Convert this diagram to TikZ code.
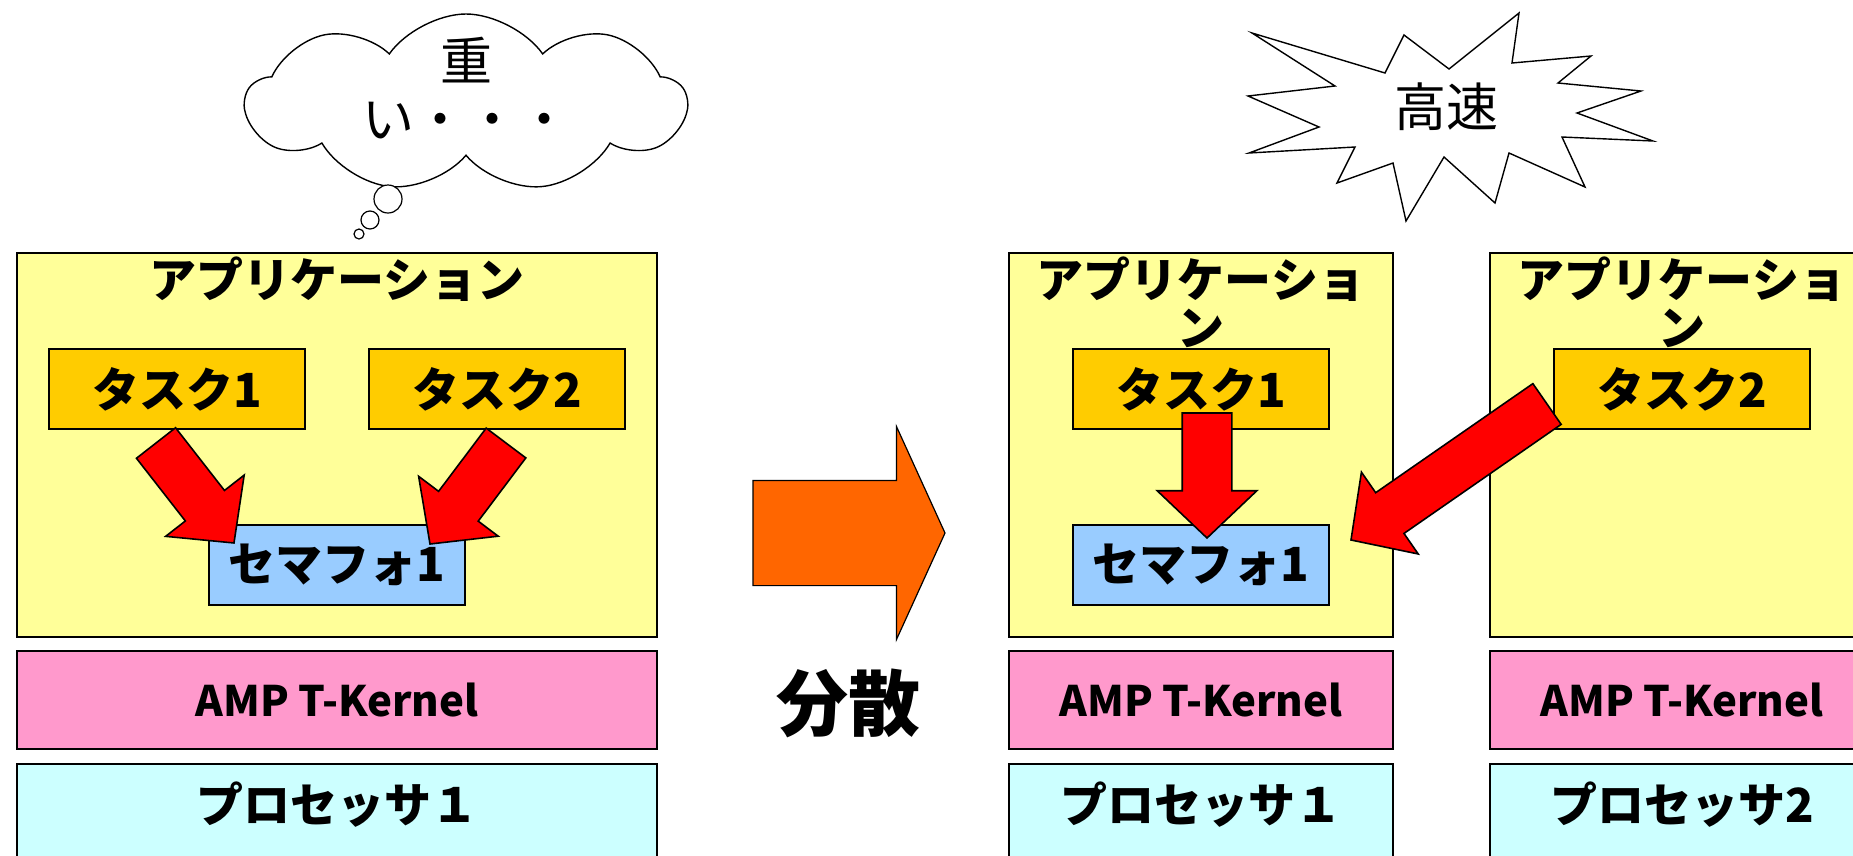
\documentclass[tikz,border=0pt]{standalone}
\usepackage{fontspec}
\setmainfont{Noto Sans CJK JP}
\usetikzlibrary{calc,shapes.arrows,shapes.symbols}

\definecolor{app color}{HTML}{FFFF99}
\definecolor{task color}{HTML}{FFCC00}
\definecolor{semaphore color}{HTML}{99CCFF}
\definecolor{kernel color}{HTML}{FF99CC}
\definecolor{processor color}{HTML}{CCFFFF}
\definecolor{access color}{HTML}{FF0000}
\definecolor{spread color}{HTML}{FF6600}
\tikzset{
    x={1pt},
    y={-1pt},
    layer box/.style={
        draw=black, line width={1.6pt},
        inner sep=0pt, outer sep=0pt,
        align=center,
        font={\fontsize{47}{48}\selectfont\bfseries},
    },
    app box/.style={
        layer box, fill=app color,
        minimum width={#1}, minimum height={384},
    },
    app title/.style={
        anchor=north, inner sep=0pt, yshift=-4,
        align=center,
        font={\fontsize{47}{48}\selectfont\bfseries},
    },
    task box/.style={
        layer box, fill=task color,
        minimum width={256}, minimum height={80},
    },
    semaphore box/.style={
        layer box, fill=semaphore color,
        minimum width={256}, minimum height={80},
    },
    kernel box/.style={
        layer box, fill=kernel color,
        minimum width={#1}, minimum height={98},
        font={\fontsize{42}{44}\selectfont\bfseries},
    },
    processor box/.style={
        layer box, fill=processor color,
        minimum width={#1}, minimum height={120},
        text height={20}, text depth={24},
    },
    access arrow/.style={
        single arrow, draw=black, fill=access color,
        line width={1.6pt},
        inner xsep=0pt, inner ysep={24pt}, outer sep=0pt,
        single arrow head extend={25pt},
        single arrow tip angle={93},
    },
    spread arrow/.style={
        single arrow, draw=black, fill=spread color,
        line width={1.2pt},
        inner xsep=0pt, inner ysep={52pt}, outer sep=0pt,
        minimum height={192},
        single arrow head extend={54pt},
        single arrow tip angle={131},
    },
    thought/.style={
        cloud, draw=black, fill=white,
        line width={1.4pt},
        cloud puffs={9},
        cloud puff arc={110},
        cloud ignores aspect,
        inner sep=0pt,
        text height={70}, text depth={0},
        minimum width={440}, minimum height={178},
        align=center,
        font={\fontsize{52}{58}\selectfont},
    },
    bubble/.style={
        circle, draw=black, fill=white,
        line width={1.2pt},
        inner sep=0pt, minimum size={#1},
    },
    burst/.style={
        draw=black, fill=white,
        line width={1.4pt},
        line join=miter,
    },
    burst text/.style={
        font={\fontsize{52}{56}\selectfont},
    },
}
\newcommand{\accessarrow}[2]{%
    \path let \p1=($(#2)-(#1)$), \n1={atan2(\y1,\x1)}, \n2={veclen(\x1,\y1)} in
        node[access arrow, rotate=\n1, minimum height=\n2, anchor=tail] at (#1) {};
}

\begin{document}
\begin{tikzpicture}
\useasboundingbox (0,0) rectangle (1853,855);
\clip (0,0) rectangle (1853,855);
% single processor
\node[app box={640}, label={[app title]north:{アプリケーション}}] (appL) at (337,445) {};
\node[task box] (task1L) at (177,389) {タスク1};
\node[task box] (task2L) at (497,389) {タスク2};
\node[semaphore box] (semL) at (337,565) {セマフォ1};
\node[kernel box={640}] (kernelL) at (337,700) {AMP T-Kernel};
\node[processor box={640}] (procL) at (337,824) {プロセッサ１};
% two processors
\node[app box={384}, label={[app title]north:{アプリケーショ\\ン}}] (appR1) at (1201,445) {};
\node[task box] (task1R) at (1201,389) {タスク1};
\node[semaphore box] (semR) at (1201,565) {セマフォ1};
\node[kernel box={384}] (kernelR1) at (1201,700) {AMP T-Kernel};
\node[processor box={384}] (procR1) at (1201,824) {プロセッサ１};
\node[app box={384}, label={[app title]north:{アプリケーショ\\ン}}] (appR2) at (1682,445) {};
\node[task box] (task2R) at (1682,389) {タスク2};
\node[kernel box={384}] (kernelR2) at (1682,700) {AMP T-Kernel};
\node[processor box={384}] (procR2) at (1682,824) {プロセッサ2};
% semaphore access
\coordinate (a1 from) at ($(task1L.south)+(-21,14)$);
\coordinate (a1 to) at ($(semL.north west)+(25,18)$);
\coordinate (a2 from) at ($(task2L.south)+(9,14)$);
\coordinate (a2 to) at ($(semL.north east)+(-35,19)$);
\coordinate (b1 from) at ($(task1R.south)+(6,-16)$);
\coordinate (b1 to) at ($(semR.north)+(6,13)$);
\coordinate (b2 from) at ($(task2R.west)+(-7,15)$);
\coordinate (b2 to) at ($(semR.east)+(22,-25)$);
\accessarrow{a1 from}{a1 to}
\accessarrow{a2 from}{a2 to}
\accessarrow{b1 from}{b1 to}
\accessarrow{b2 from}{b2 to}
% distribution
\node[spread arrow, anchor=tail] (spread) at (753,533) {};
\node[font={\fontsize{72}{76}\selectfont\bfseries}] (spreadlabel) at (848,703) {分散};
% comments
\node[thought] (heavy) at (466,103) {重\\い・・・};
\node[bubble={28}] (bub1) at (388,199) {};
\node[bubble={18}] (bub2) at (370,220) {};
\node[bubble={10}] (bub3) at (359,234) {};
\draw[burst] (1252,33) -- (1385,73) -- (1404,35) -- (1449,69) -- (1519,13) -- (1512,63)
    -- (1591,56) -- (1558,83) -- (1641,91) -- (1577,113) -- (1653,141) -- (1562,137)
    -- (1585,187) -- (1509,153) -- (1495,203) -- (1444,157) -- (1406,221) -- (1393,163)
    -- (1337,183) -- (1355,147) -- (1249,153) -- (1319,127) -- (1248,96) -- (1335,86) -- cycle;
\node[burst text] (fast) at (1446,107) {高速};
\end{tikzpicture}
\end{document}
